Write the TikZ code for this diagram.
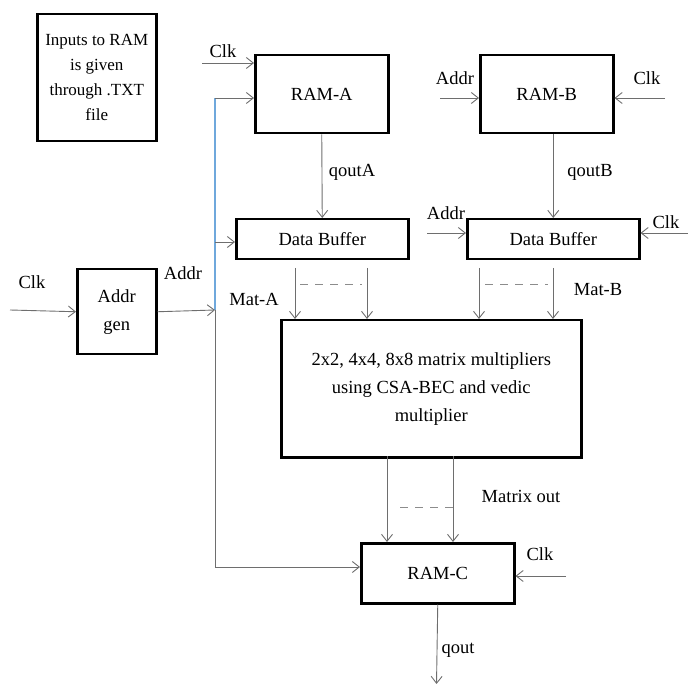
\documentclass[tikz,border=0pt]{standalone}
\usepackage{fontspec}
\setmainfont{Liberation Serif}
\usetikzlibrary{
  arrows.meta,
  positioning,
  calc
}
\definecolor{mmLine}{HTML}{6E6E6E}
\definecolor{mmBus}{HTML}{6FA8DC}
\definecolor{mmDash}{HTML}{8C8C8C}
\tikzset{
  blk/.style={
    draw, line width=2.5pt, inner sep=0pt, align=center, anchor=north west,
    font=\fontsize{18.5}{28}\selectfont
  },
  notebox/.style={blk, font=\fontsize{17}{25}\selectfont},
  sig/.style={-{Straight Barb[length=7pt,width=11pt]}, draw=mmLine, line width=0.9pt},
  wire/.style={draw=mmLine, line width=0.9pt},
  bus/.style={draw=mmBus, line width=1.2pt},
  skip/.style={draw=mmDash, line width=0.9pt, dash pattern=on 8pt off 7pt},
  lbl/.style={font=\fontsize{18.5}{22}\selectfont, inner sep=0pt}
}

\begin{document}
\begin{tikzpicture}[x=1pt, y=-1pt]
  \useasboundingbox (0,0) rectangle (688,684);
  % blocks
  \node[notebox, minimum width=119pt, minimum height=127pt] (note) at (36,13) {Inputs to RAM\\is given\\through .TXT\\file};
  \node[blk, minimum width=133pt, minimum height=78pt] (ramA) at (254,54) {RAM-A};
  \node[blk, minimum width=133pt, minimum height=78pt] (ramB) at (479,54) {RAM-B};
  \node[blk, minimum width=172pt, minimum height=40pt] (dbA) at (235,218) {Data Buffer};
  \node[blk, minimum width=172pt, minimum height=40pt] (dbB) at (466,218) {Data Buffer};
  \node[blk, minimum width=79pt, minimum height=85pt] (agen) at (76,268) {Addr\\gen};
  \node[blk, minimum width=300pt, minimum height=137pt] (mult) at (280,319) {2x2, 4x4, 8x8 matrix multipliers\\using CSA-BEC and vedic\\multiplier};
  \node[blk, minimum width=153pt, minimum height=60pt] (ramC) at (360,542) {RAM-C};
  % free ends
  \coordinate (clkA) at (202,63);
  \coordinate (busTop) at (215,98);
  \coordinate (busDb) at (215,242);
  \coordinate (busMid) at (215,310);
  \coordinate (busBot) at (215,567);
  \coordinate (clkG) at (10,310);
  \coordinate (addrB) at (440,98);
  \coordinate (clkB) at (665,98);
  \coordinate (addrDb) at (427,233);
  \coordinate (clkDb) at (688,233);
  \coordinate (ma1) at (295,268);
  \coordinate (ma2) at (367,268);
  \coordinate (mb1) at (479,268);
  \coordinate (mb2) at (553,268);
  \coordinate (mo1) at (387,456);
  \coordinate (mo2) at (453,456);
  \coordinate (clkC) at (566,576);
  \coordinate (qEnd) at (436.5,684);
  % address bus
  \draw[bus] (busTop) -- (busMid);
  \draw[wire] (busMid) -- (busBot);
  \draw[sig] (agen.east) -- (busMid);
  \draw[sig] (clkG) -- (agen.west);
  \draw[sig] (busTop) -- (busTop -| ramA.west);
  \draw[sig] (busDb) -- (busDb -| dbA.west);
  \draw[sig] (busBot) -- (busBot -| ramC.west);
  % RAM-A path
  \draw[sig] (clkA) -- (clkA -| ramA.west);
  \draw[sig] (ramA.south) -- (dbA.north);
  % RAM-B path
  \draw[sig] (addrB) -- (addrB -| ramB.west);
  \draw[sig] (clkB) -- (clkB -| ramB.east);
  \draw[sig] (dbB.north |- ramB.south) -- (dbB.north);
  \draw[sig] (addrDb) -- (addrDb -| dbB.west);
  \draw[sig] (clkDb) -- (clkDb -| dbB.east);
  % matrices into multiplier
  \draw[sig] (ma1) -- (ma1 |- mult.north);
  \draw[sig] (ma2) -- (ma2 |- mult.north);
  \draw[sig] (mb1) -- (mb1 |- mult.north);
  \draw[sig] (mb2) -- (mb2 |- mult.north);
  \draw[skip] (300,284) -- (362,284);
  \draw[skip] (485,284) -- (548,284);
  % result into RAM-C
  \draw[sig] (mo1) -- (mo1 |- ramC.north);
  \draw[sig] (mo2) -- (mo2 |- ramC.north);
  \draw[skip] (400,507) -- (453,507);
  \draw[sig] (clkC) -- (clkC -| ramC.east);
  \draw[sig] (ramC.south) -- (qEnd);
  % labels
  \node[lbl] (lClkA) at (223,51) {Clk};
  \node[lbl] (lQoutA) at (352,172) {qoutA};
  \node[lbl] (lAddrB) at (455,78) {Addr};
  \node[lbl] (lClkB) at (647,78) {Clk};
  \node[lbl] (lQoutB) at (590,172) {qoutB};
  \node[lbl] (lAddrDb) at (446,213) {Addr};
  \node[lbl] (lClkDb) at (666,222) {Clk};
  \node[lbl] (lClkG) at (32,282) {Clk};
  \node[lbl] (lAddrG) at (183,273) {Addr};
  \node[lbl] (lMatA) at (254,299) {Mat-A};
  \node[lbl] (lMatB) at (598,290) {Mat-B};
  \node[lbl] (lOut) at (521,496) {Matrix out};
  \node[lbl] (lClkC) at (540,554) {Clk};
  \node[lbl] (lQout) at (458,650) {qout};
\end{tikzpicture}
\end{document}
